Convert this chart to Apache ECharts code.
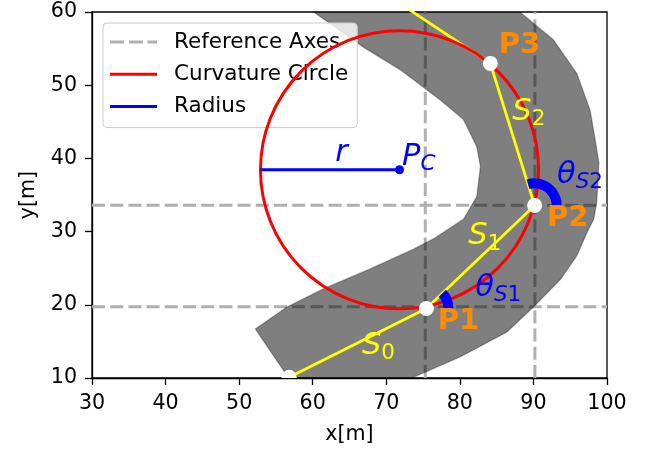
<!DOCTYPE html>
<html><head><meta charset="utf-8">
<script src="https://cdn.jsdelivr.net/npm/echarts@6/dist/echarts.min.js"></script>
<style>html,body{margin:0;padding:0;background:#fff}#c{width:649px;height:450px}</style>
</head><body><div id="c"></div>
<script>
// ---- data ----
const xTicks = [30, 40, 50, 60, 70, 80, 90, 100];
const yTicks = [10, 20, 30, 40, 50, 60];
// waypoints P0..P3 and the next one (off-chart)
const pathX = [56.8, 75.45, 90.16, 84.14, 70.0];
const pathY = [10.1, 19.5, 33.58, 52.98, 62.4];
const dotIdx = [0, 1, 2, 3];
// reference axes
const refX = [75.3, 90.2];
const refY = [19.75, 33.6];
// curvature circle
const circleCenterX = 71.8;
const circleCenterY = 38.45;
const circleRadius = 18.9;
// road boundaries
const roadInnerX = [52.2, 56.5, 61.5, 67.8, 73.7, 76.4, 80.5, 82.3, 82.8, 82.3, 80.5, 77.3, 71.9, 66.9, 60.4, 55.0];
const roadInnerY = [16.7, 19.7, 22.2, 24.9, 27.6, 29.0, 31.7, 34.8, 38.9, 41.6, 45.3, 48.0, 52.1, 55.2, 59.8, 63.6];
const roadOuterX = [84.5, 88.4, 92.7, 95.9, 97.7, 98.4, 98.9, 98.6, 98.2, 97.3, 95.9, 93.7, 90.0, 86.4, 80.1, 73.9, 61.2];
const roadOuterY = [63.2, 59.8, 56.2, 51.6, 46.6, 42.5, 39.4, 34.0, 31.7, 29.9, 26.7, 23.5, 19.7, 16.3, 12.9, 10.2, 3.4];
// heading-angle arcs at these waypoints (segment i -> i+1)
const arcIdx = [1, 2];

// ---- label anchors (left edge, cap-middle) ----
const labelDefs = [
  {text: 'P1', x: 76.98, y: 17.96, kind: 'point'},
  {text: 'P2', x: 91.85, y: 32.12, kind: 'point'},
  {text: 'P3', x: 85.27, y: 55.70, kind: 'point'},
  {text: 'S', sub: [['0', false]], x: 66.7, y: 14.7, color: '#ffff00'},
  {text: 'S', sub: [['1', false]], x: 81.15, y: 29.63, color: '#ffff00'},
  {text: 'S', sub: [['2', false]], x: 87.13, y: 46.63, color: '#ffff00'},
  {text: 'θ', sub: [['S', true], ['1', false]], x: 82.1, y: 22.63, color: '#0000ff'},
  {text: 'θ', sub: [['S', true], ['2', false]], x: 93.2, y: 38.06, color: '#0000ff'},
  {text: 'r', x: 63.07, y: 41.0, color: '#0000ff'},
  {text: 'P', sub: [['C', true]], x: 72.14, y: 40.44, color: '#0000ff'}
];

const FONT = '"DejaVu Sans"';
const xMin = xTicks[0], xMax = xTicks[xTicks.length - 1];
const yMin = yTicks[0], yMax = yTicks[yTicks.length - 1];

function measure(txt, font) {
  const c = measure.ctx || (measure.ctx = document.createElement('canvas').getContext('2d'));
  c.font = font;
  return c.measureText(txt).width;
}

const chart = echarts.init(document.getElementById('c'), null, {renderer: 'canvas'});

const axisCommon = {
  type: 'value',
  interval: 10,
  splitLine: {show: false},
  axisLine: {show: true, lineStyle: {color: '#000', width: 1.3}},
  axisTick: {show: true, inside: false, length: 7, lineStyle: {color: '#000', width: 1.3}},
  nameLocation: 'middle',
  nameTextStyle: {fontFamily: 'DejaVu Sans', fontSize: 20.6, color: '#000'}
};

const option = {
  animation: false,
  backgroundColor: '#fff',
  grid: {left: 92, right: 42, top: 12, bottom: 71, show: true, borderColor: '#000', borderWidth: 1.3, backgroundColor: 'transparent'},
  xAxis: Object.assign({}, axisCommon, {
    min: xMin, max: xMax, name: 'x[m]', nameGap: 46,
    axisLabel: {fontFamily: 'DejaVu Sans', fontSize: 20.6, color: '#000', margin: 15}
  }),
  yAxis: Object.assign({}, axisCommon, {
    min: yMin, max: yMax, name: 'y[m]', nameGap: 53,
    axisLabel: {fontFamily: 'DejaVu Sans', fontSize: 20.6, color: '#000', margin: 15}
  }),
  legend: {
    orient: 'vertical', left: 103, top: 23,
    padding: [7, 9, 9, 7],
    itemWidth: 47, itemHeight: 14, itemGap: 8.3,
    backgroundColor: 'rgba(255,255,255,0.8)',
    borderColor: '#cccccc', borderWidth: 1, borderRadius: 4,
    itemStyle: {borderWidth: 0},
    textStyle: {fontFamily: 'DejaVu Sans', fontSize: 21.5, color: '#000', lineHeight: 24, padding: [0, 0, 0, 12]},
    selectedMode: false,
    data: [
      {name: 'Reference Axes', icon: 'path://M0,0H14V3H0Z M19,0H33V3H19Z M37.5,0H47V3H37.5Z'},
      {name: 'Curvature Circle', icon: 'path://M0,0H47V3H0Z'},
      {name: 'Radius', icon: 'path://M0,0H47V3H0Z'}
    ]
  },
  series: [
    {
      name: 'Reference Axes', type: 'custom', z: 1, color: '#b0b0b0',
      data: refX.concat(refY).map((v, i) => [i]),
      renderItem: function (params, api) {
        const i = params.dataIndex;
        let a, b;
        if (i < refX.length) {
          a = api.coord([refX[i], yMin]); b = api.coord([refX[i], yMax]);
        } else {
          const v = refY[i - refX.length];
          a = api.coord([xMin, v]); b = api.coord([xMax, v]);
        }
        return {type: 'line', shape: {x1: a[0], y1: a[1], x2: b[0], y2: b[1]},
          style: {stroke: '#b0b0b0', lineWidth: 3, lineDash: [13, 5.2], fill: null}};
      }
    },
    {
      name: 'Road', type: 'custom', z: 2, clip: true,
      data: [[0]],
      renderItem: function (params, api) {
        const pts = [];
        for (let i = 0; i < roadInnerX.length; i++) pts.push(api.coord([roadInnerX[i], roadInnerY[i]]));
        for (let i = 0; i < roadOuterX.length; i++) pts.push(api.coord([roadOuterX[i], roadOuterY[i]]));
        return {type: 'polygon', shape: {points: pts},
          style: {fill: 'rgba(0,0,0,0.5)', stroke: 'rgba(0,0,0,0.3)', lineWidth: 1.3}};
      }
    },
    {
      name: 'Path', type: 'line', z: 3, clip: true,
      data: pathX.map((x, i) => [x, pathY[i]]),
      symbol: 'none', showSymbol: false,
      lineStyle: {color: '#ffff00', width: 2.8}, color: '#ffff00'
    },
    {
      name: 'Curvature Circle', type: 'custom', z: 4, color: '#ff0000',
      data: [[circleCenterX, circleCenterY, circleRadius]],
      renderItem: function (params, api) {
        const c = api.coord([api.value(0), api.value(1)]);
        const r = api.size([api.value(2), 0])[0];
        return {type: 'circle', shape: {cx: c[0], cy: c[1], r: r},
          style: {fill: null, stroke: '#ff0000', lineWidth: 3}};
      }
    },
    {
      name: 'Radius', type: 'line', z: 5, color: '#0000ff',
      data: [[circleCenterX - circleRadius, circleCenterY], [circleCenterX, circleCenterY]],
      symbol: 'none', showSymbol: false,
      lineStyle: {color: '#0000ff', width: 3}
    },
    {
      name: 'Heading Arcs', type: 'custom', z: 6,
      data: arcIdx.map(i => [i]),
      renderItem: function (params, api) {
        const i = arcIdx[params.dataIndex];
        const p = api.coord([pathX[i], pathY[i]]);
        const q = api.coord([pathX[i + 1], pathY[i + 1]]);
        const ang = Math.atan2(q[1] - p[1], q[0] - p[0]);
        const r = api.size([3.0, 0])[0];
        return {type: 'arc', shape: {cx: p[0], cy: p[1], r: r, startAngle: ang, endAngle: 0, clockwise: true},
          style: {fill: null, stroke: '#0000ff', lineWidth: 10}};
      }
    },
    {
      name: 'Waypoints', type: 'custom', z: 7, clip: true,
      data: dotIdx.map(i => [pathX[i], pathY[i]]),
      renderItem: function (params, api) {
        const c = api.coord([api.value(0), api.value(1)]);
        return {type: 'circle', shape: {cx: c[0], cy: c[1], r: 7.5}, style: {fill: '#ffffff', stroke: null}};
      }
    },
    {
      name: 'Center', type: 'custom', z: 7,
      data: [[circleCenterX, circleCenterY]],
      renderItem: function (params, api) {
        const c = api.coord([api.value(0), api.value(1)]);
        return {type: 'circle', shape: {cx: c[0], cy: c[1], r: 4.5}, style: {fill: '#0000ff', stroke: null}};
      }
    },
    {
      name: 'Labels', type: 'custom', z: 8,
      data: labelDefs.map((d, i) => [i]),
      renderItem: function (params, api) {
        const d = labelDefs[params.dataIndex];
        const p = api.coord([d.x, d.y]);
        const isPt = d.kind === 'point';
        const fs = isPt ? 29 : 30.5, sfs = 21.5;
        const children = [];
        const color = isPt ? '#ff8c00' : d.color;
        const mainFont = (isPt ? 'bold ' : 'italic ') + fs + 'px ' + FONT;
        children.push({type: 'text', style: {text: d.text, x: p[0], y: p[1] + 0.068 * fs, font: mainFont, fill: color, align: 'left', verticalAlign: 'middle'}});
        if (d.sub) {
          let x = p[0] + measure(d.text, mainFont);
          const y = p[1] + 8.2 + 0.068 * sfs;
          d.sub.forEach(function (part) {
            const f = (part[1] ? 'italic ' : '') + sfs + 'px ' + FONT;
            children.push({type: 'text', style: {text: part[0], x: x, y: y, font: f, fill: color, align: 'left', verticalAlign: 'middle'}});
            x += measure(part[0], f);
          });
        }
        return {type: 'group', children: children};
      }
    }
  ]
};
chart.setOption(option);
</script>
</body></html>
